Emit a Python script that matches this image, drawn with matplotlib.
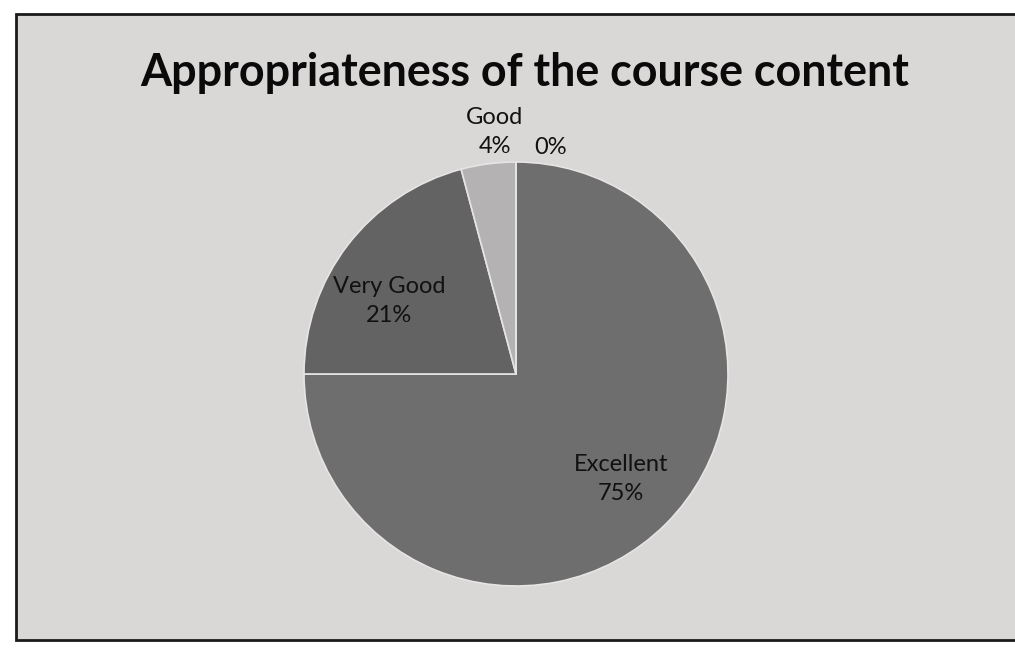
import matplotlib
matplotlib.use("Agg")
import matplotlib.pyplot as plt
from matplotlib.patches import Rectangle
import numpy as np

# data
categories = ["Excellent", "Very Good", "Good", "Average"]
counts = [18, 5, 1, 0]
pct_labels = ["75%", "21%", "4%", "0%"]
show_name = [True, True, True, False]
colors = ["#6e6e6e", "#636363", "#b4b2b2", "#6e6e6e"]

title = "Appropriateness of the course content"

W, H = 1015, 651
fig = plt.figure(figsize=(W / 100, H / 100), dpi=100)
fig.patch.set_facecolor("white")

# scanned chart area with border
fig.patches.append(Rectangle((16 / W, 1 - 640 / H), 1.0, (640 - 14) / H,
                             transform=fig.transFigure, facecolor="#dad7d7",
                             edgecolor="#1a1a1a", linewidth=2.0, zorder=-10))

cx, cy, r = 516, 374, 212
ax = fig.add_axes([(cx - r) / W, 1 - (cy + r) / H, 2 * r / W, 2 * r / H])
ax.set_facecolor("none")

wedges, _ = ax.pie(counts, colors=colors, startangle=90, counterclock=False,
                   radius=1.0, wedgeprops=dict(edgecolor="#e6e4e4", linewidth=1.2))
ax.set_xlim(-1, 1)
ax.set_ylim(-1, 1)
ax.axis("off")

# data labels
inside = {0: 0.70, 1: 0.69}
outside_pos = {2: (-0.10, 1.14), 3: (0.165, 1.07)}
for i, w in enumerate(wedges):
    txt = (categories[i] + "\n" + pct_labels[i]) if show_name[i] else pct_labels[i]
    if i in inside:
        ang = np.deg2rad((w.theta1 + w.theta2) / 2)
        if i == 1:
            ang = np.deg2rad(150)
        x, y = inside[i] * np.cos(ang), inside[i] * np.sin(ang)
    else:
        x, y = outside_pos[i]
    ax.text(x, y, txt, ha="center", va="center", fontsize=17,
            family="Lato", color="#111111", linespacing=1.45, clip_on=False)

fig.text(525 / W, 1 - 86 / H, title, ha="center", va="baseline",
         fontsize=32.3, fontweight="bold", family="Lato", color="#0a0a0a")

fig.savefig("out.png", dpi=100, facecolor=fig.get_facecolor())
